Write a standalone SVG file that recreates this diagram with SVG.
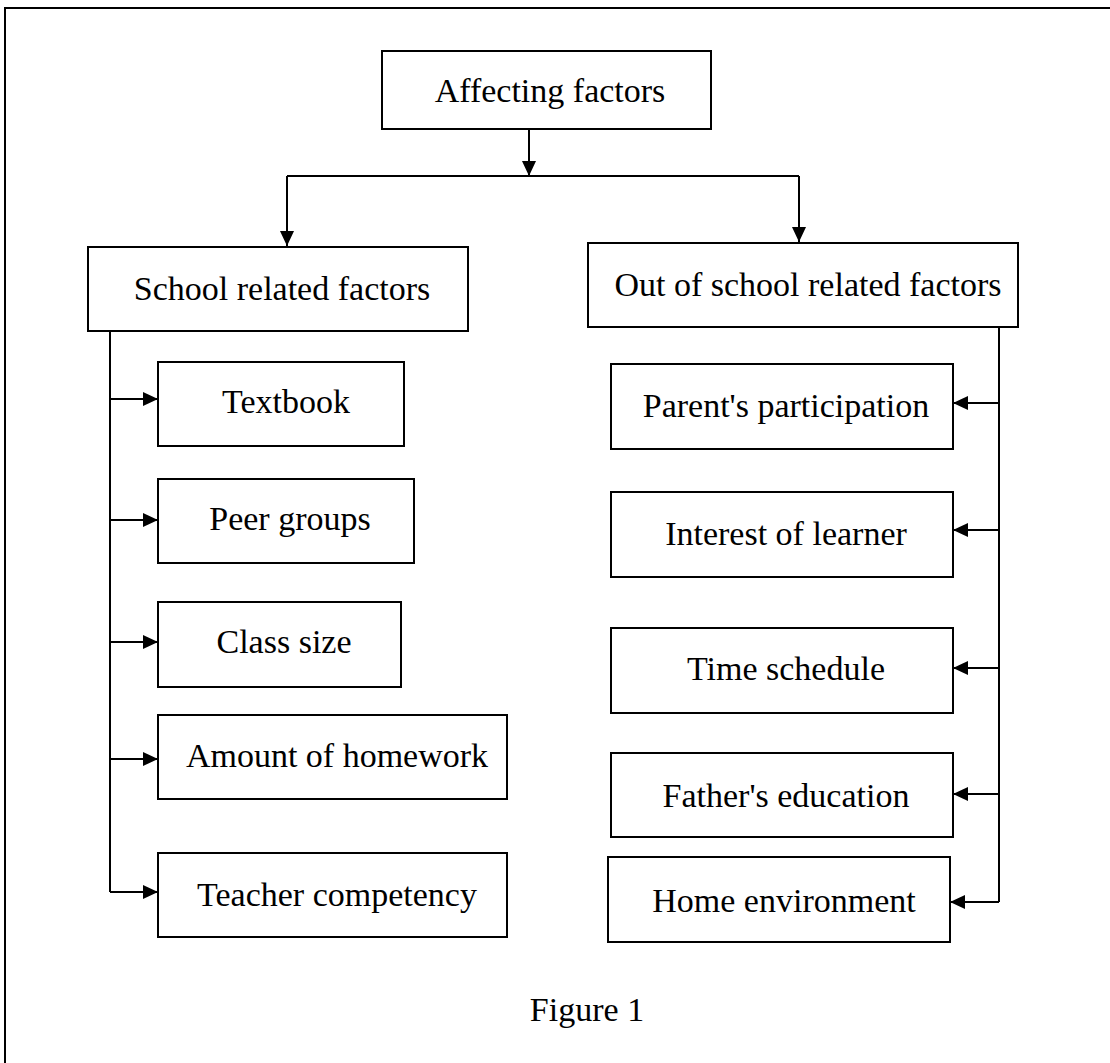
<svg xmlns="http://www.w3.org/2000/svg" width="1110" height="1063" viewBox="0 0 1110 1063">
<style>
.box{fill:#fff;stroke:#000;stroke-width:2}
.lbl{font-family:"Liberation Serif","Times New Roman",serif;font-size:34px;fill:#000;text-anchor:middle}
.ln{fill:none;stroke:#000;stroke-width:2}
</style>
<defs>
<marker id="ah" viewBox="0 0 15 14" refX="15" refY="7" markerWidth="15" markerHeight="14" markerUnits="userSpaceOnUse" orient="auto">
<path d="M0,0 L15,7 L0,14 Z" fill="#000"/>
</marker>
</defs>
<rect width="1110" height="1063" fill="#fff"/>
<path d="M5,1070 L5,8 L1120,8" fill="none" stroke="#000" stroke-width="2"/>

<g id="connectors">
<path class="ln" d="M529,129 L529,176" marker-end="url(#ah)"/>
<path class="ln" d="M287,176 L799,176"/>
<path class="ln" d="M287,176 L287,246" marker-end="url(#ah)"/>
<path class="ln" d="M799,176 L799,242" marker-end="url(#ah)"/>
<path class="ln" d="M110,331 L110,892"/>
<path class="ln" d="M110,399 L158,399" marker-end="url(#ah)"/>
<path class="ln" d="M110,520 L158,520" marker-end="url(#ah)"/>
<path class="ln" d="M110,642 L158,642" marker-end="url(#ah)"/>
<path class="ln" d="M110,759 L158,759" marker-end="url(#ah)"/>
<path class="ln" d="M110,892 L158,892" marker-end="url(#ah)"/>
<path class="ln" d="M999,327 L999,902"/>
<path class="ln" d="M999,403 L953,403" marker-end="url(#ah)"/>
<path class="ln" d="M999,530 L953,530" marker-end="url(#ah)"/>
<path class="ln" d="M999,668 L953,668" marker-end="url(#ah)"/>
<path class="ln" d="M999,794 L953,794" marker-end="url(#ah)"/>
<path class="ln" d="M999,902 L950,902" marker-end="url(#ah)"/>
</g>

<g id="affecting"><rect class="box" x="382" y="51" width="329" height="78"/><text class="lbl" x="550" y="102">Affecting factors</text></g>
<g id="school"><rect class="box" x="88" y="247" width="380" height="84"/><text class="lbl" x="282" y="300">School related factors</text></g>
<g id="outschool"><rect class="box" x="588" y="243" width="430" height="84"/><text class="lbl" x="808" y="296">Out of school related factors</text></g>

<g id="textbook"><rect class="box" x="158" y="362" width="246" height="84"/><text class="lbl" x="286" y="413">Textbook</text></g>
<g id="peer"><rect class="box" x="158" y="479" width="256" height="84"/><text class="lbl" x="290" y="530">Peer groups</text></g>
<g id="classsize"><rect class="box" x="158" y="602" width="243" height="85"/><text class="lbl" x="284" y="653">Class size</text></g>
<g id="homework"><rect class="box" x="158" y="715" width="349" height="84"/><text class="lbl" x="337" y="767">Amount of homework</text></g>
<g id="teacher"><rect class="box" x="158" y="853" width="349" height="84"/><text class="lbl" x="337" y="906">Teacher competency</text></g>

<g id="parent"><rect class="box" x="611" y="364" width="342" height="85"/><text class="lbl" x="786" y="417">Parent's participation</text></g>
<g id="interest"><rect class="box" x="611" y="492" width="342" height="85"/><text class="lbl" x="786" y="545">Interest of learner</text></g>
<g id="time"><rect class="box" x="611" y="628" width="342" height="85"/><text class="lbl" x="786" y="680">Time schedule</text></g>
<g id="father"><rect class="box" x="611" y="753" width="342" height="84"/><text class="lbl" x="786" y="807">Father's education</text></g>
<g id="home"><rect class="box" x="608" y="857" width="342" height="85"/><text class="lbl" x="784" y="912">Home environment</text></g>

<text id="caption" class="lbl" x="587" y="1021">Figure 1</text>
</svg>
